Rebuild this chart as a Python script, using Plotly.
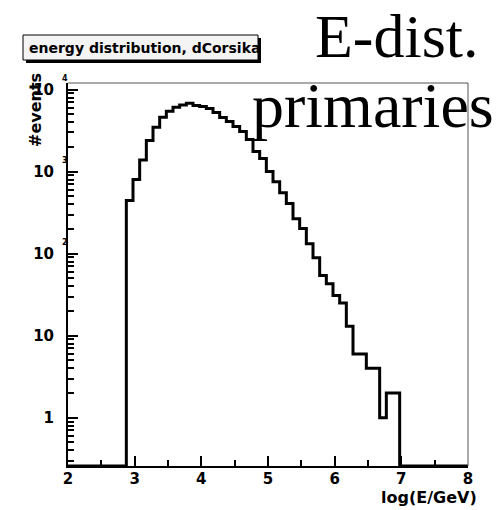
import math
import plotly.graph_objects as go

# ---------------- data ----------------
bin_edges = [2.875, 2.975, 3.075, 3.175, 3.275, 3.375, 3.475, 3.575, 3.675, 3.775,
             3.875, 3.975, 4.075, 4.175, 4.275, 4.375, 4.475, 4.575, 4.675, 4.775,
             4.875, 4.975, 5.075, 5.175, 5.275, 5.375, 5.475, 5.575, 5.675, 5.775,
             5.875, 5.975, 6.075, 6.175, 6.275, 6.375, 6.475, 6.575, 6.675, 6.775,
             6.875, 6.975]
counts = [443, 800, 1390, 2390, 3470, 4590, 5435, 6085, 6500, 6810,
          6380, 6210, 5860, 5245, 4560, 4075, 3540, 3075, 2455, 1754,
          1442, 1000, 755, 554, 408, 267, 202, 132, 89, 54,
          43, 31, 25, 13, 6, 6, 4, 4, 1, 2,
          2]
x_range = [2, 8]
y_log_range = [-0.588, 4.08]
x_tick_vals = [2, 3, 4, 5, 6, 7, 8]
x_tick_text = ["2", "3", "4", "5", "6", "7", "8"]
x_minor_vals = [2.5, 3.5, 4.5, 5.5, 6.5, 7.5]
y_tick_vals = [1, 10, 100, 1000, 10000]
y_tick_text = ["1", "10", "10", "10", "10"]
y_tick_exp = ["", "", "2", "3", "4"]
title_text = "energy distribution, dCorsika"
x_title = "log(E/GeV)"
y_title = "#events"
big_text_1 = "E-dist."
big_text_2 = "primaries"

# ---------------- layout helpers ----------------
W, H = 503, 510
L, R, T, B = 68, 35, 83, 44
PW, PH = W - L - R, H - T - B


def px(x):
    return (x - L) / PW


def py(y):
    return (H - B - y) / PH


floor = 10 ** y_log_range[0]
xs = [x_range[0]] + bin_edges + [x_range[1]]
ys = [floor] + counts + [floor, floor]

y_minor_vals = [m * 10 ** d for d in range(-1, 4) for m in range(2, 10)]

fig = go.Figure()
fig.add_trace(go.Scatter(
    x=xs, y=ys, mode="lines",
    line=dict(color="black", width=3, shape="hv"),
    hoverinfo="skip", showlegend=False,
))

lab_font = dict(family="DejaVu Sans", size=15, color="black", weight="bold")

fig.update_layout(
    width=W, height=H,
    margin=dict(l=L, r=R, t=T, b=B, pad=0),
    paper_bgcolor="white", plot_bgcolor="white",
    showlegend=False,
    xaxis=dict(
        range=x_range, showgrid=False, zeroline=False,
        showline=True, linecolor="black", linewidth=2,
        ticks="inside", ticklen=10, tickwidth=1.5, tickcolor="black",
        tickmode="array", tickvals=x_tick_vals, ticktext=x_tick_text,
        tickfont=lab_font, ticklabelstandoff=-2,
        minor=dict(ticks="inside", ticklen=6, tickwidth=1.5, tickcolor="black",
                   tickmode="array", tickvals=x_minor_vals, showgrid=False),
    ),
    yaxis=dict(
        type="log", range=y_log_range, showgrid=False, zeroline=False,
        showline=True, linecolor="black", linewidth=2,
        ticks="inside", ticklen=10, tickwidth=1.5, tickcolor="black",
        tickmode="array", tickvals=y_tick_vals, ticktext=y_tick_text,
        tickfont=lab_font, ticklabelstandoff=9,
        minor=dict(ticks="inside", ticklen=6, tickwidth=1.5, tickcolor="black",
                   tickmode="array", tickvals=y_minor_vals, showgrid=False),
    ),
)

# thin top/right frame
fig.add_shape(type="line", xref="paper", yref="paper", x0=0, x1=1, y0=1, y1=1,
              line=dict(color="#555555", width=1))
fig.add_shape(type="line", xref="paper", yref="paper", x0=1, x1=1, y0=0, y1=1,
              line=dict(color="#555555", width=1))

# exponents of y tick labels
for v, e in zip(y_tick_vals, y_tick_exp):
    if e:
        fig.add_annotation(x=px(60), xref="paper", y=math.log10(v), yref="y",
                           text=e, showarrow=False, yshift=11,
                           font=dict(family="DejaVu Sans", size=8, color="black", weight="bold"))

# axis titles
fig.add_annotation(x=px(479), y=py(497), xref="paper", yref="paper",
                   xanchor="right", yanchor="middle", text=x_title, showarrow=False,
                   font=dict(family="DejaVu Sans", size=16, color="black", weight="bold"))
fig.add_annotation(x=px(35), y=py(110), xref="paper", yref="paper",
                   xanchor="center", yanchor="middle", text=y_title, showarrow=False,
                   textangle=-90,
                   font=dict(family="DejaVu Sans", size=16, color="black", weight="bold"))

# title box with shadow
fig.add_shape(type="rect", xref="paper", yref="paper",
              x0=px(26), x1=px(261), y0=py(63), y1=py(38),
              line=dict(width=0), fillcolor="black")
fig.add_shape(type="rect", xref="paper", yref="paper",
              x0=px(23), x1=px(258), y0=py(60), y1=py(35),
              line=dict(width=1, color="black"), fillcolor="#f4f4f4")
fig.add_annotation(x=px(27), y=py(47.5), xref="paper", yref="paper",
                   xanchor="left", yanchor="middle", text=title_text, showarrow=False,
                   font=dict(family="DejaVu Sans", size=14, color="black", weight="bold"))

# big serif labels
fig.add_annotation(x=px(313), y=py(36), xref="paper", yref="paper",
                   xanchor="left", yanchor="middle", text=big_text_1, showarrow=False,
                   font=dict(family="Liberation Serif", size=62, color="black"))
fig.add_annotation(x=px(250), y=py(106), xref="paper", yref="paper",
                   xanchor="left", yanchor="middle", text=big_text_2, showarrow=False,
                   font=dict(family="Liberation Serif", size=64, color="black"))

fig.write_html("out.html", config={"displayModeBar": False},
               post_script="document.body.style.margin='0px';")
